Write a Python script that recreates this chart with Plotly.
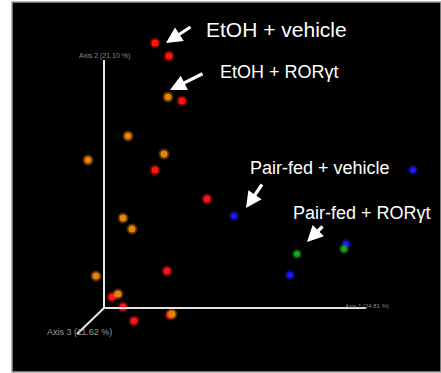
import plotly.graph_objects as go

# Point positions (screen-projected coordinates)
etoh_veh_x = [155, 169, 182, 155, 207, 167, 112, 123, 134, 170]
etoh_veh_y = [43, 56, 101, 170, 199, 271, 297, 307, 321, 315]
etoh_ror_x = [168, 128, 164, 88, 123, 132, 96, 118, 172]
etoh_ror_y = [97, 136, 154, 160, 218, 229, 276, 294, 314]
pf_veh_x = [413, 234, 346, 290]
pf_veh_y = [170, 216, 244, 275]
pf_ror_x = [344, 297]
pf_ror_y = [249, 254]

labels = ["EtOH + vehicle", "EtOH + ROR\u03b3t", "Pair-fed + vehicle", "Pair-fed + ROR\u03b3t"]
label_x = [204, 218, 248, 291]
label_y = [29, 72, 168, 213]
label_size = [21, 18, 18, 18]
arrow_head_x = [166, 170, 246, 307]
arrow_head_y = [43, 90, 208, 242]
arrow_tail_x = [192, 204, 263, 324]
arrow_tail_y = [26, 73, 183, 225]

axis_labels = ["Axis 1 (24.81 %)", "Axis 2 (21.10 %)", "Axis 3 (11.62 %)"]

fig = go.Figure()

groups = [
    (etoh_veh_x, etoh_veh_y, "#ff1414", 7),
    (etoh_ror_x, etoh_ror_y, "#e8820f", 7),
    (pf_veh_x, pf_veh_y, "#1a1aff", 6),
    (pf_ror_x, pf_ror_y, "#1aa61a", 6),
]
for gx, gy, col, sz in groups:
    fig.add_trace(go.Scatter(x=gx, y=gy, mode="markers",
                             marker=dict(size=sz + 4, color=col, opacity=0.35, line=dict(width=0)),
                             hoverinfo="skip", showlegend=False))
    fig.add_trace(go.Scatter(x=gx, y=gy, mode="markers",
                             marker=dict(size=sz, color=col, line=dict(width=0)),
                             showlegend=False))

shapes = [
    dict(type="rect", xref="x", yref="y", x0=12, x1=441, y0=2, y1=372,
         fillcolor="black", line=dict(color="#a0a0a0", width=1.5), layer="below"),
    dict(type="line", xref="x", yref="y", x0=104, y0=308, x1=104, y1=60,
         line=dict(color="#e6e6e6", width=2)),
    dict(type="line", xref="x", yref="y", x0=104, y0=308, x1=366, y1=308,
         line=dict(color="#e6e6e6", width=2)),
    dict(type="line", xref="x", yref="y", x0=104, y0=308, x1=77, y1=334,
         line=dict(color="#e6e6e6", width=2)),
]

annotations = []
for i in range(4):
    annotations.append(dict(x=arrow_head_x[i], y=arrow_head_y[i], xref="x", yref="y",
                            ax=arrow_tail_x[i], ay=arrow_tail_y[i], axref="x", ayref="y",
                            text="", showarrow=True, arrowhead=2, arrowsize=1.0,
                            arrowwidth=3.2, arrowcolor="white"))
    annotations.append(dict(x=label_x[i], y=label_y[i], xref="x", yref="y",
                            text=labels[i], showarrow=False, xanchor="left", yanchor="middle",
                            font=dict(family="Liberation Sans, Arial", size=label_size[i], color="white")))

annotations.append(dict(x=343, y=306, xref="x", yref="y", text=axis_labels[0], showarrow=False,
                        xanchor="left", yanchor="middle",
                        font=dict(family="Liberation Sans, Arial", size=6, color="#8a8a8a")))
annotations.append(dict(x=104, y=56, xref="x", yref="y", text=axis_labels[1], showarrow=False,
                        xanchor="center", yanchor="middle",
                        font=dict(family="Liberation Sans, Arial", size=7, color="#8a8a8a")))
annotations.append(dict(x=45, y=332, xref="x", yref="y", text=axis_labels[2], showarrow=False,
                        xanchor="left", yanchor="middle",
                        font=dict(family="Liberation Sans, Arial", size=9, color="#9a9a9a")))

fig.update_layout(
    width=441, height=373, margin=dict(l=0, r=0, t=0, b=0),
    paper_bgcolor="white", plot_bgcolor="white",
    xaxis=dict(range=[0, 441], visible=False, fixedrange=True),
    yaxis=dict(range=[373, 0], visible=False, fixedrange=True),
    shapes=shapes, annotations=annotations,
)

fig.write_html("out.html")
